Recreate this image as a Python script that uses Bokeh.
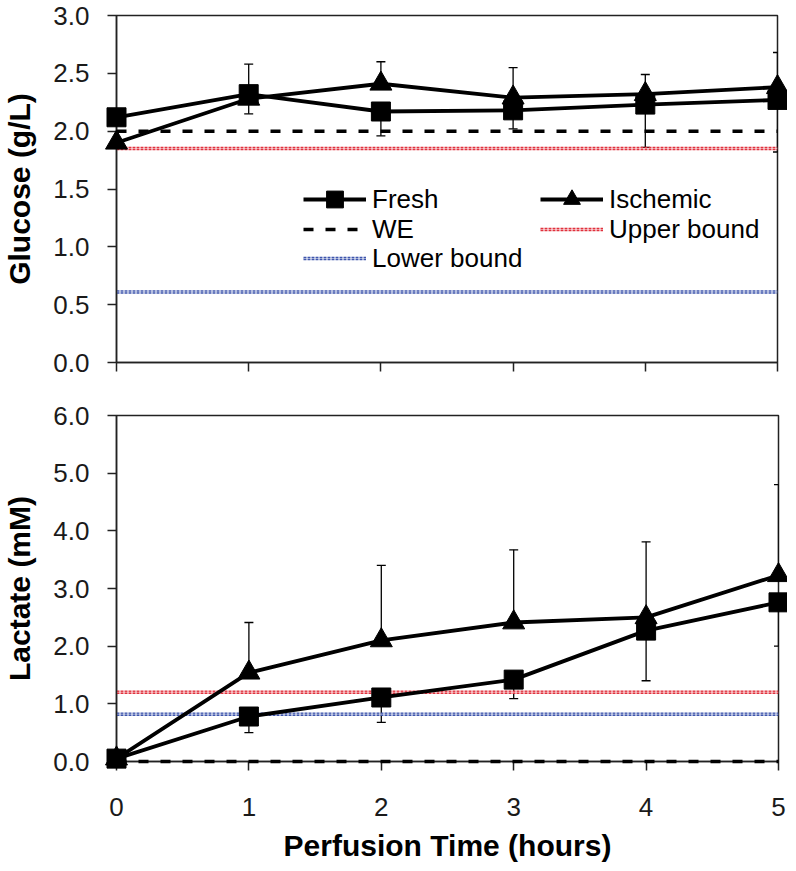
from bokeh.plotting import figure
from bokeh.models import (ColumnDataSource, Whisker, Legend, LegendItem, FixedTicker,
                          NumeralTickFormatter, TeeHead, Range1d)
from bokeh.layouts import column
from bokeh.embed import file_html
from bokeh.resources import INLINE

# ---------------- data ----------------
hours = [0, 1, 2, 3, 4, 5]

glucose_fresh = [2.12, 2.32, 2.17, 2.18, 2.23, 2.27]
glucose_fresh_upper = [2.12, 2.58, 2.17, 2.18, 2.23, 2.27]
glucose_fresh_lower = [2.12, 2.32, 1.96, 2.02, 1.86, 1.82]
glucose_isch = [1.90, 2.28, 2.41, 2.29, 2.32, 2.38]
glucose_isch_upper = [1.90, 2.28, 2.60, 2.55, 2.49, 2.68]
glucose_isch_lower = [1.90, 2.15, 2.41, 2.29, 2.32, 2.38]
glucose_we = 2.0
glucose_upper_bound = 1.85
glucose_lower_bound = 0.61
glucose_ticks = [0.0, 0.5, 1.0, 1.5, 2.0, 2.5, 3.0]

lactate_fresh = [0.05, 0.78, 1.11, 1.42, 2.27, 2.76]
lactate_fresh_upper = [0.05, 0.78, 1.11, 1.42, 2.27, 2.76]
lactate_fresh_lower = [0.05, 0.50, 0.68, 1.09, 1.40, 2.00]
lactate_isch = [0.05, 1.54, 2.10, 2.41, 2.50, 3.23]
lactate_isch_upper = [0.05, 2.41, 3.40, 3.67, 3.81, 4.80]
lactate_isch_lower = [0.05, 1.54, 2.10, 2.41, 2.50, 3.23]
lactate_we = 0.0
lactate_upper_bound = 1.20
lactate_lower_bound = 0.82
lactate_ticks = [0.0, 1.0, 2.0, 3.0, 4.0, 5.0, 6.0]

series_labels = ["Fresh", "Ischemic", "WE", "Upper bound", "Lower bound"]
x_title = "Perfusion Time (hours)"

FONT = "Liberation Sans"
AX = "#222222"
RED = "#e0323e"
BLUE = "#3f56ad"


def build(p, fresh, fu, fl, isch, iu, il, we, ub, lb, ticks, ytitle, show_x, with_legend):
    p.x_range = Range1d(hours[0], hours[-1])
    p.y_range = Range1d(ticks[0], ticks[-1])
    p.grid.visible = False
    p.outline_line_color = AX
    p.outline_line_width = 1.5
    p.background_fill_color = "white"
    p.border_fill_color = "white"

    x_ref = [hours[0], hours[-1]]
    # reference lines
    we_r = p.line(x_ref, [we, we], line_color="black", line_width=3.5, line_dash="10 12",
                  level="overlay")
    ub_r1 = p.line(x_ref, [ub, ub], line_color=RED, line_width=3.5, line_dash="3 1")
    ub_r2 = p.line(x_ref, [ub, ub], line_color="white", line_width=0.6, line_alpha=0.8)
    lb_r1 = p.line(x_ref, [lb, lb], line_color=BLUE, line_width=3.5, line_dash="3 1")
    lb_r2 = p.line(x_ref, [lb, lb], line_color="white", line_width=0.6, line_alpha=0.8)

    # error bars
    for vals, up, lo in ((fresh, fu, fl), (isch, iu, il)):
        src = ColumnDataSource(dict(x=hours, upper=up, lower=lo))
        w = Whisker(base="x", upper="upper", lower="lower", source=src,
                    line_color="black", line_width=1.3,
                    upper_head=TeeHead(size=9, line_width=1.3, line_color="black"),
                    lower_head=TeeHead(size=9, line_width=1.3, line_color="black"))
        p.add_layout(w)

    f_line = p.line(hours, fresh, line_color="black", line_width=3.8)
    i_line = p.line(hours, isch, line_color="black", line_width=3.8)
    f_mark = p.scatter(hours, fresh, marker="square", size=19, fill_color="black",
                       line_color="black", level="overlay")
    i_mark = p.scatter(hours, isch, marker="triangle", size=22, fill_color="black",
                       line_color="black", level="overlay")

    # axes
    for ax in p.yaxis:
        ax.ticker = FixedTicker(ticks=ticks)
        ax.formatter = NumeralTickFormatter(format="0.0")
        ax.axis_label = ytitle
    for ax in p.xaxis:
        ax.ticker = FixedTicker(ticks=hours)
        if show_x:
            ax.axis_label = x_title
        else:
            ax.major_label_overrides = {h: "" for h in hours}
            ax.major_label_text_font_size = "0px"
    for ax in list(p.xaxis) + list(p.yaxis):
        ax.axis_line_color = AX
        ax.axis_line_width = 1.5
        ax.major_tick_line_color = AX
        ax.major_tick_line_width = 1.5
        ax.major_tick_in = 0
        ax.major_tick_out = 9
        ax.minor_tick_line_color = None
        ax.major_label_text_font = FONT
        ax.major_label_text_color = "#1a1a1a"
        ax.axis_label_text_font = FONT
        ax.axis_label_text_font_style = "bold"
        ax.axis_label_text_font_size = "30px"
        ax.axis_label_text_color = "black"
    for ax in p.yaxis:
        ax.major_label_text_font_size = "26px"
        ax.major_label_standoff = 18
        ax.axis_label_standoff = 14
    if show_x:
        for ax in p.xaxis:
            ax.major_label_text_font_size = "26px"
            ax.major_label_standoff = 27
            ax.axis_label_standoff = 10

    if with_legend:
        entries = [
            (series_labels[0], [f_line, f_mark], 187, 142),
            (series_labels[1], [i_line, i_mark], 424, 142),
            (series_labels[2], [we_r], 187, 112),
            (series_labels[3], [ub_r1, ub_r2], 424, 112),
            (series_labels[4], [lb_r1, lb_r2], 187, 83),
        ]
        for label, rends, vx, vy in entries:
            lg = Legend(items=[LegendItem(label=label, renderers=rends)],
                        location=(vx, vy), glyph_width=63, glyph_height=42,
                        label_standoff=6, padding=0, margin=0, spacing=0,
                        border_line_color=None, background_fill_alpha=0,
                        label_text_font=FONT, label_text_font_size="26px",
                        label_text_color="black")
            p.add_layout(lg)


top = figure(frame_width=661, frame_height=347, output_backend="svg", toolbar_location=None,
             min_border_left=115, min_border_right=10, min_border_top=15, min_border_bottom=20)
build(top, glucose_fresh, glucose_fresh_upper, glucose_fresh_lower,
      glucose_isch, glucose_isch_upper, glucose_isch_lower,
      glucose_we, glucose_upper_bound, glucose_lower_bound, glucose_ticks,
      "Glucose (g/L)", False, True)

bottom = figure(frame_width=662, frame_height=346, output_backend="svg", toolbar_location=None,
                min_border_left=115, min_border_right=9, min_border_top=33, min_border_bottom=5)
build(bottom, lactate_fresh, lactate_fresh_upper, lactate_fresh_lower,
      lactate_isch, lactate_isch_upper, lactate_isch_lower,
      lactate_we, lactate_upper_bound, lactate_lower_bound, lactate_ticks,
      "Lactate (mM)", True, False)

layout = column(top, bottom, spacing=0)
open("out.html", "w").write(file_html(layout, INLINE))
